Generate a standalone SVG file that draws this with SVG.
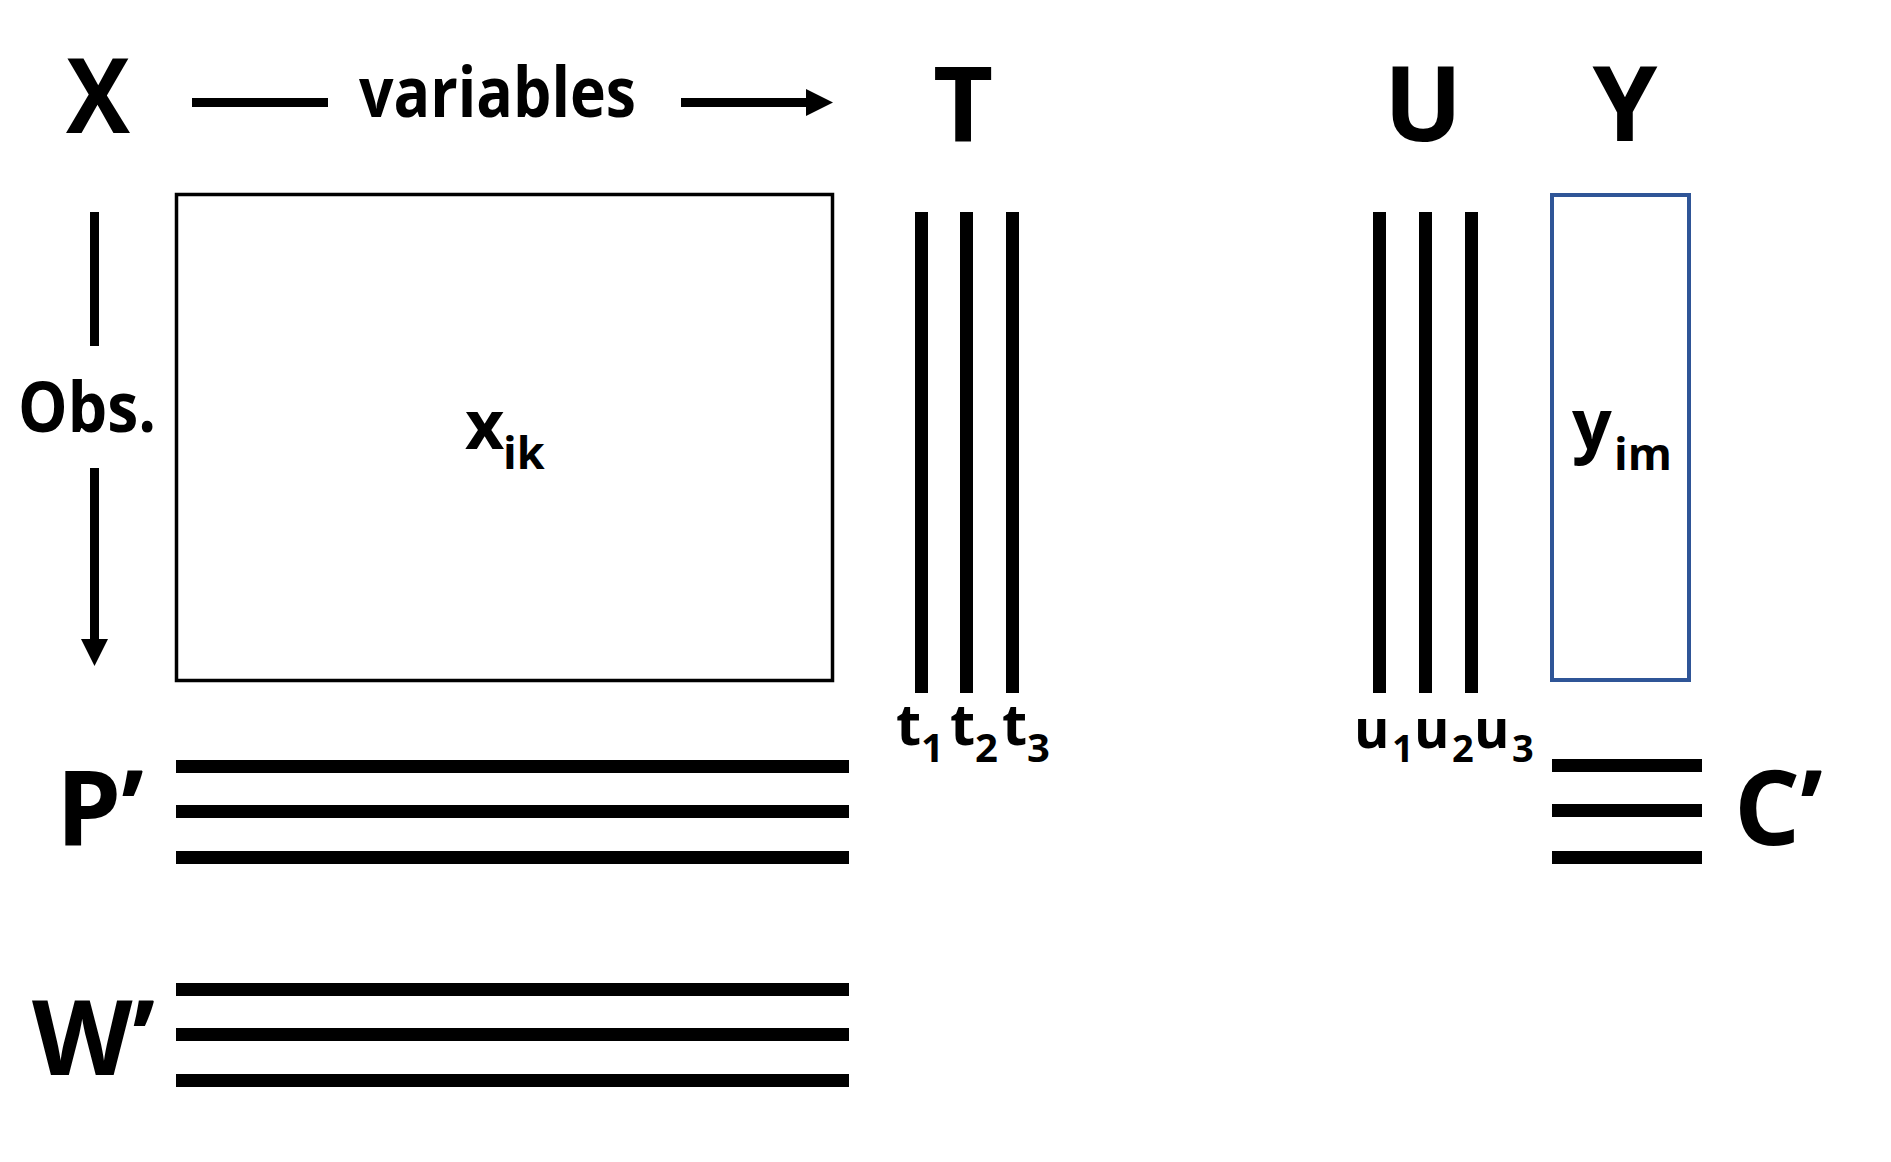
<svg xmlns="http://www.w3.org/2000/svg" width="1891" height="1162" viewBox="0 0 1891 1162">
  <style>
    text { font-family: "Open Sans", "Noto Sans", "Liberation Sans", sans-serif; font-weight: 700; fill: #000; }
    .big { font-size: 104px; }
    .mid { font-size: 70px; }
    .lab { font-size: 58px; }
    .ulab { font-size: 54px; }
    .sub { font-size: 40px; }
    .usub { font-size: 38px; }
    .xsub { font-size: 45px; }
    .bar { stroke: #000; stroke-width: 13; fill: none; }
    .conn { stroke: #000; stroke-width: 9; fill: none; }
  </style>
  <defs>
    <marker id="head" markerUnits="userSpaceOnUse" markerWidth="27" markerHeight="27" refX="0" refY="13.5" orient="auto" viewBox="0 0 27 27">
      <path d="M0,0 L27,13.5 L0,27 z" fill="#000"/>
    </marker>
  </defs>
  <rect width="1891" height="1162" fill="#fff"/>

  <g id="connectors">
    <line class="conn" x1="192" y1="102.5" x2="328" y2="102.5"/>
    <line class="conn" x1="681" y1="102.5" x2="806" y2="102.5" marker-end="url(#head)"/>
    <line class="conn" x1="94.5" y1="212" x2="94.5" y2="346"/>
    <line class="conn" x1="94.5" y1="468" x2="94.5" y2="639" marker-end="url(#head)"/>
  </g>

  <g id="label-X"><text class="big" x="98" y="133" text-anchor="middle" textLength="64" lengthAdjust="spacingAndGlyphs">X</text></g>
  <g id="label-variables"><text class="mid" x="359" y="117" textLength="277" lengthAdjust="spacingAndGlyphs">variables</text></g>
  <g id="label-obs"><text class="mid" x="18" y="432" textLength="138" lengthAdjust="spacingAndGlyphs">Obs.</text></g>

  <g id="matrix-X">
    <rect x="176.5" y="194.5" width="656" height="486" fill="none" stroke="#000" stroke-width="3.5"/>
    <text x="465" y="449" style="font-size:68px">x<tspan class="xsub" x="503" y="469">ik</tspan></text>
  </g>

  <g id="node-T">
    <text class="big" x="963" y="141" text-anchor="middle">T</text>
    <line class="bar" x1="921.5" y1="212" x2="921.5" y2="693"/>
    <line class="bar" x1="966.5" y1="212" x2="966.5" y2="693"/>
    <line class="bar" x1="1012.5" y1="212" x2="1012.5" y2="693"/>
    <text class="lab" x="896" y="745">t<tspan class="sub" x="921" y="762">1</tspan><tspan x="950" y="745">t</tspan><tspan class="sub" x="975" y="762">2</tspan><tspan x="1002" y="745">t</tspan><tspan class="sub" x="1027" y="762">3</tspan></text>
  </g>

  <g id="node-U">
    <text class="big" x="1423" y="141" text-anchor="middle">U</text>
    <line class="bar" x1="1379.5" y1="212" x2="1379.5" y2="693"/>
    <line class="bar" x1="1425.5" y1="212" x2="1425.5" y2="693"/>
    <line class="bar" x1="1471.5" y1="212" x2="1471.5" y2="693"/>
    <text class="ulab" x="1354" y="748">u<tspan class="usub" x="1392" y="762">1</tspan><tspan x="1414" y="748">u</tspan><tspan class="usub" x="1452" y="762">2</tspan><tspan x="1474" y="748">u</tspan><tspan class="usub" x="1512" y="762">3</tspan></text>
  </g>

  <g id="node-Y">
    <text class="big" x="1625" y="141" text-anchor="middle">Y</text>
    <rect x="1552" y="195" width="137" height="485" fill="none" stroke="#2F5597" stroke-width="4"/>
    <text x="1572" y="449" style="font-size:70px">y<tspan class="xsub" x="1614" y="470">im</tspan></text>
  </g>

  <g id="node-P">
    <text class="big" x="56" y="845">P’</text>
    <line class="bar" x1="176" y1="766.5" x2="849" y2="766.5"/>
    <line class="bar" x1="176" y1="811.5" x2="849" y2="811.5"/>
    <line class="bar" x1="176" y1="857.5" x2="849" y2="857.5"/>
  </g>

  <g id="node-W">
    <text class="big" x="32" y="1075">W’</text>
    <line class="bar" x1="176" y1="989.5" x2="849" y2="989.5"/>
    <line class="bar" x1="176" y1="1034.5" x2="849" y2="1034.5"/>
    <line class="bar" x1="176" y1="1080.5" x2="849" y2="1080.5"/>
  </g>

  <g id="node-C">
    <text class="big" x="1734" y="845">C’</text>
    <line class="bar" x1="1552" y1="765.5" x2="1702" y2="765.5"/>
    <line class="bar" x1="1552" y1="810.5" x2="1702" y2="810.5"/>
    <line class="bar" x1="1552" y1="857.5" x2="1702" y2="857.5"/>
  </g>
</svg>
